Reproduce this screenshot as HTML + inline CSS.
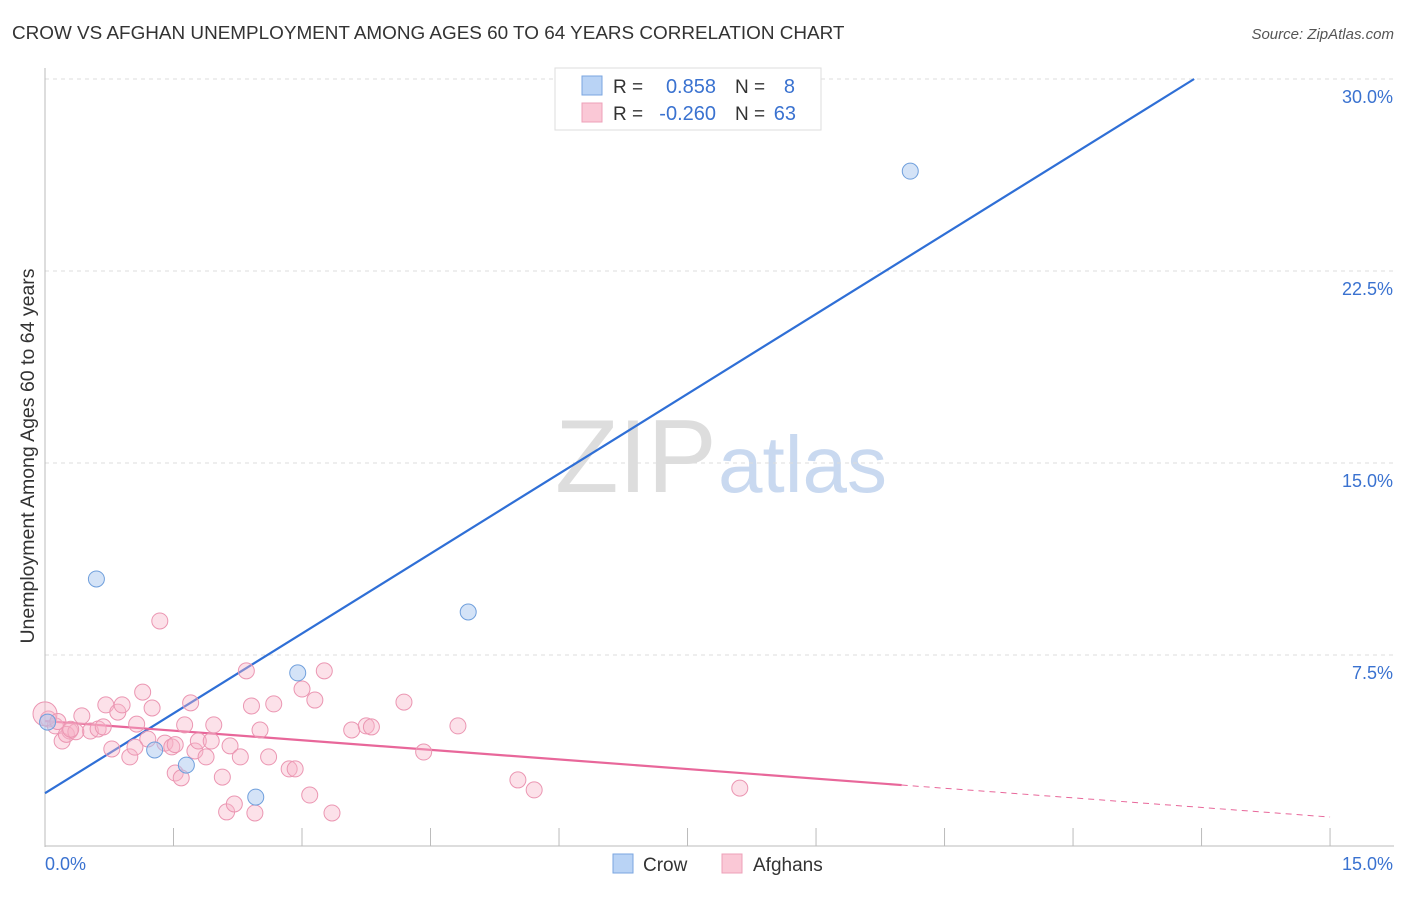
<!DOCTYPE html>
<html><head><meta charset="utf-8"><style>
body{margin:0;background:#fff;font-family:"Liberation Sans",sans-serif}
svg text{font-family:"Liberation Sans",sans-serif}
</style></head><body>
<svg id="c" width="1406" height="892">
<text x="12" y="39" font-size="18.9" fill="#333">CROW VS AFGHAN UNEMPLOYMENT AMONG AGES 60 TO 64 YEARS CORRELATION CHART</text>
<text x="1394" y="39" font-size="15" fill="#555" font-style="italic" text-anchor="end">Source: ZipAtlas.com</text>
<text x="34" y="456" font-size="19.5" fill="#333" text-anchor="middle" transform="rotate(-90 34 456)">Unemployment Among Ages 60 to 64 years</text>
<text x="555" y="492" font-size="104" fill="#ddd" font-family="Liberation Serif">ZIP</text>
<text x="718" y="492" font-size="80" fill="#c9d9f0">atlas</text>
<g id="grid"></g><g id="ax"></g><g id="lines"></g><g id="pts"></g>
<g>
<rect x="555" y="68" width="266" height="62" fill="#fff" stroke="#ddd"/>
<rect x="582" y="76" width="20" height="19" fill="#b9d3f5" stroke="#7aa6e0"/>
<rect x="582" y="103" width="20" height="19" fill="#fac8d6" stroke="#eea0b8"/>
<text x="613" y="93" font-size="19" fill="#333">R = </text><text x="716" y="93" font-size="20" fill="#3a72d0" text-anchor="end">0.858</text>
<text x="735" y="93" font-size="19" fill="#333">N = </text><text x="795" y="93" font-size="20" fill="#3a72d0" text-anchor="end">8</text>
<text x="613" y="120" font-size="19" fill="#333">R = </text><text x="716" y="120" font-size="20" fill="#3a72d0" text-anchor="end">-0.260</text>
<text x="735" y="120" font-size="19" fill="#333">N = </text><text x="796" y="120" font-size="20" fill="#3a72d0" text-anchor="end">63</text>
</g>
<g>
<rect x="613" y="854" width="20" height="19" fill="#b9d3f5" stroke="#7aa6e0"/>
<text x="643" y="871" font-size="19" fill="#333">Crow</text>
<rect x="722" y="854" width="20" height="19" fill="#fac8d6" stroke="#eea0b8"/>
<text x="753" y="871" font-size="19" fill="#333">Afghans</text>
</g>
</svg>
<script>
const yTicks=[7.5,15,22.5,30];
const yTickLabels=["7.5%","15.0%","22.5%","30.0%"];
const crowX=[0.60,1.28,1.65,2.46,2.95,4.94,10.10,0.03];
const crowY=[10.47,3.79,3.20,1.95,6.80,9.18,26.4,4.88];
const afgX=[0.04,0.12,0.20,0.29,0.43,0.53,0.62,0.68,0.71,0.78,0.85,0.90,0.99,1.07,1.14,1.20,1.25,1.34,1.40,1.48,1.52,1.59,1.63,1.70,1.75,1.79,1.88,1.94,1.97,2.07,2.12,2.16,2.21,2.28,2.35,2.41,2.45,2.51,2.61,2.67,2.85,2.92,3.00,3.09,3.15,3.26,3.35,3.58,3.75,3.81,4.19,4.42,4.82,5.52,5.71,8.11,0.0,0.15,0.25,0.36,1.52,1.05,0.3];
const afgY=[5.0,4.73,4.14,4.53,5.12,4.53,4.61,4.69,5.55,3.83,5.27,5.55,3.52,4.8,6.05,4.22,5.43,8.83,4.06,3.91,2.89,2.70,4.77,5.63,3.75,4.14,3.52,4.14,4.77,2.73,1.37,3.95,1.68,3.52,6.88,5.51,1.33,4.57,3.52,5.59,3.05,3.05,6.17,2.03,5.74,6.88,1.33,4.57,4.73,4.69,5.66,3.71,4.73,2.62,2.23,2.3,5.2,4.9,4.4,4.5,4.0,3.9,4.6];
const crowFit=[2.1,2.08];
const afgFit=[4.92,-0.25];
const X=v=>45+v*85.67, Y=v=>847-v*25.6;
const NS="http://www.w3.org/2000/svg";
function mk(p,t,a){const e=document.createElementNS(NS,t);for(const k in a)e.setAttribute(k,a[k]);document.getElementById(p).appendChild(e);return e;}
yTicks.forEach((t,i)=>{
 const l=mk('grid','line',{x1:45,x2:1394,y1:Y(t),y2:Y(t),stroke:'#ddd','stroke-dasharray':'4,4'});
 
 
 const tx=mk('ax','text',{x:1393,y:Y(t)+24,'font-size':18,fill:'#3a72d0','text-anchor':'end'});
 tx.textContent=yTickLabels[i];
 
 
});
mk('ax','line',{x1:45,x2:45,y1:68,y2:847,stroke:'#bbb'});
mk('ax','line',{x1:45,x2:1394,y1:846,y2:846,stroke:'#bbb'});
for(let i=0;i<=10;i++){const xx=X(i*1.5);const t=mk('ax','line',{x1:xx,x2:xx,y1:828,y2:846,stroke:'#bbb'});
 
 }
let t0=mk('ax','text',{x:45,y:870,'font-size':18,fill:'#3a72d0'});t0.textContent="0.0%";


let t1=mk('ax','text',{x:1393,y:870,'font-size':18,fill:'#3a72d0','text-anchor':'end'});t1.textContent="15.0%";


afgX.forEach((x,i)=>{const c=mk('pts','circle',{cx:X(x),cy:Y(afgY[i]),r:i==56?12:8,fill:'rgba(248,180,200,0.4)',stroke:'#eb96b2','stroke-width':1});
 
 });
crowX.forEach((x,i)=>{const c=mk('pts','circle',{cx:X(x),cy:Y(crowY[i]),r:8,fill:'rgba(170,200,240,0.5)',stroke:'#6f9fdc','stroke-width':1});
 
 });
const xe=(30-crowFit[0])/crowFit[1];
const bl=mk('lines','line',{x1:X(0),y1:Y(crowFit[0]),x2:X(xe),y2:Y(30),stroke:'#2f6fd6','stroke-width':2.2});


const pl=mk('lines','line',{x1:X(0),y1:Y(afgFit[0]),x2:X(10),y2:Y(afgFit[0]+afgFit[1]*10),stroke:'#e8679a','stroke-width':2.2});


const pd=mk('lines','line',{x1:X(10),y1:Y(afgFit[0]+afgFit[1]*10),x2:X(15),y2:Y(afgFit[0]+afgFit[1]*15),stroke:'#e8679a','stroke-width':1,'stroke-dasharray':'6,5'});


</script>
</body></html>
